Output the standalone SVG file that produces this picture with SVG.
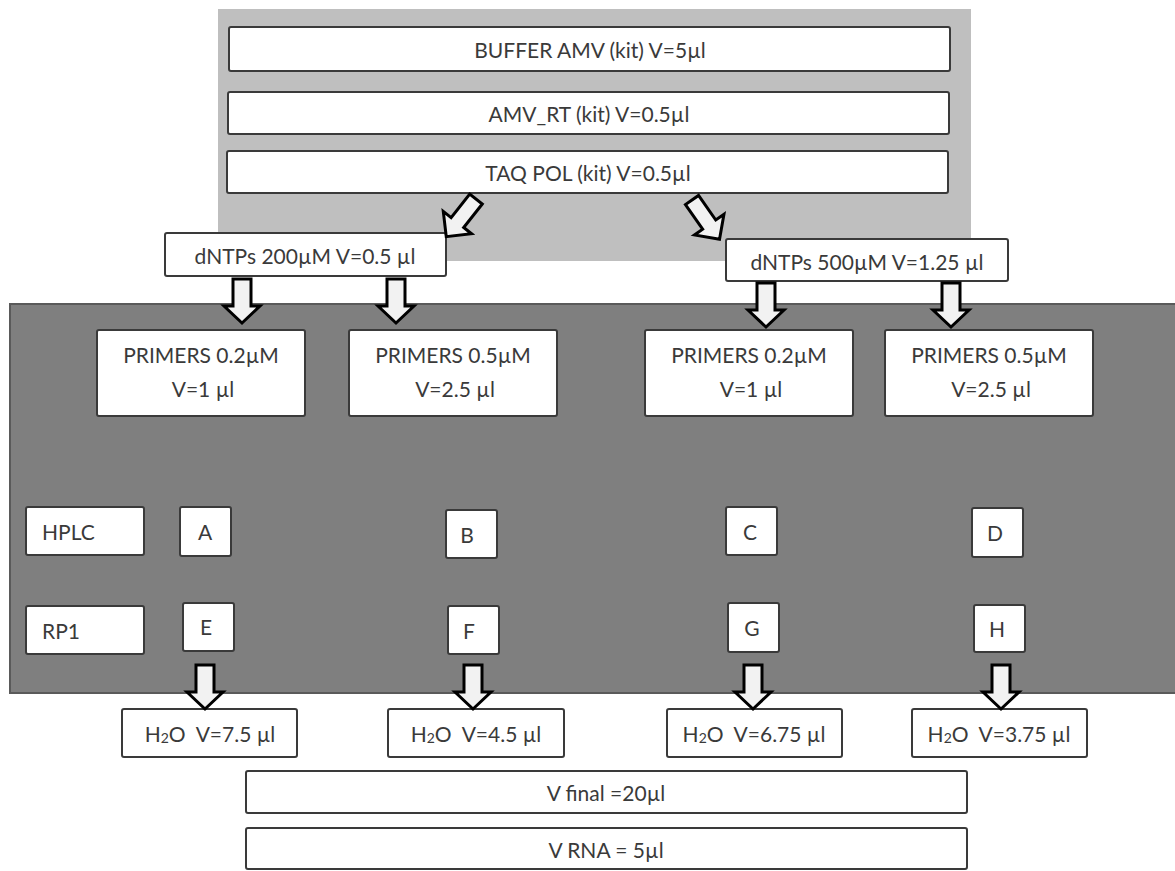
<svg xmlns="http://www.w3.org/2000/svg" width="1175" height="871" viewBox="0 0 1175 871">
<style>
.bx{fill:#ffffff;stroke:#3a3a3a;stroke-width:2}
.t{font-family:Lato,"Liberation Sans",sans-serif;font-size:21px;fill:#3a3a3a;text-anchor:middle;dominant-baseline:central}
.tl{text-anchor:start}
.ar{fill:#f2f2f2;stroke:#000000;stroke-width:3;stroke-linejoin:miter}
</style>
<defs>
<path id="va" d="M-9,-44 L9,-44 L9,-17 L18,-17 L0,0 L-18,-17 L-9,-17 Z"/>
<path id="da" d="M0,-8 L30,-8 L30,-18 L48,0 L30,18 L30,8 L0,8 Z"/>
</defs>
<rect x="0" y="0" width="1175" height="871" fill="#ffffff"/>
<g id="panel-kit"><rect x="218" y="9" width="753" height="252" fill="#bfbfbf"/></g>
<g id="panel-samples"><rect x="10" y="304" width="1170" height="389" fill="#7f7f7f" stroke="#5a5a5a" stroke-width="2"/></g>

<g id="buffer"><rect class="bx" x="229" y="27" width="721" height="44" rx="2" stroke-width="2.5"/><text class="t" x="590" y="49">BUFFER AMV (kit) V=5µl</text></g>
<g id="amvrt"><rect class="bx" x="228" y="92" width="721" height="42" rx="2"/><text class="t" x="589" y="113">AMV_RT (kit) V=0.5µl</text></g>
<g id="taqpol"><rect class="bx" x="227" y="151" width="721" height="42" rx="2"/><text class="t" x="588" y="172">TAQ POL (kit) V=0.5µl</text></g>

<g id="dntp200"><rect class="bx" x="165" y="233" width="281" height="43" rx="2"/><text class="t" x="305" y="255">dNTPs 200µM V=0.5 µl</text></g>
<g id="dntp500"><rect class="bx" x="726" y="239" width="282" height="42" rx="2"/><text class="t" x="867" y="261">dNTPs 500µM V=1.25 µl</text></g>

<g id="primers1"><rect class="bx" x="97" y="330" width="208" height="86" rx="2"/><text class="t" x="201" y="354">PRIMERS 0.2µM</text><text class="t" x="203" y="388">V=1 µl</text></g>
<g id="primers2"><rect class="bx" x="349" y="330" width="208" height="86" rx="2"/><text class="t" x="453" y="354">PRIMERS 0.5µM</text><text class="t" x="455" y="388">V=2.5 µl</text></g>
<g id="primers3"><rect class="bx" x="645" y="330" width="208" height="86" rx="2"/><text class="t" x="749" y="354">PRIMERS 0.2µM</text><text class="t" x="751" y="388">V=1 µl</text></g>
<g id="primers4"><rect class="bx" x="885" y="330" width="208" height="86" rx="2"/><text class="t" x="989" y="354">PRIMERS 0.5µM</text><text class="t" x="991" y="388">V=2.5 µl</text></g>

<g id="hplc"><rect class="bx" x="26" y="507" width="118" height="48" rx="2"/><text class="t tl" x="42" y="531">HPLC</text></g>
<g id="rp1"><rect class="bx" x="26" y="606" width="118" height="48" rx="2"/><text class="t tl" x="42" y="630">RP1</text></g>

<g id="A"><rect class="bx" x="180" y="507" width="51" height="49" rx="2"/><text class="t" x="205" y="531">A</text></g>
<g id="B"><rect class="bx" x="446" y="510" width="51" height="48" rx="2"/><text class="t" x="467" y="534">B</text></g>
<g id="C"><rect class="bx" x="726" y="507" width="51" height="48" rx="2"/><text class="t" x="750" y="531">C</text></g>
<g id="D"><rect class="bx" x="972" y="508" width="51" height="49" rx="2"/><text class="t" x="995" y="532">D</text></g>
<g id="E"><rect class="bx" x="183" y="603" width="51" height="48" rx="2"/><text class="t" x="206" y="626">E</text></g>
<g id="F"><rect class="bx" x="448" y="606" width="51" height="48" rx="2"/><text class="t" x="469" y="630">F</text></g>
<g id="G"><rect class="bx" x="728" y="603" width="51" height="49" rx="2"/><text class="t" x="752" y="627">G</text></g>
<g id="H"><rect class="bx" x="974" y="605" width="51" height="47" rx="2"/><text class="t" x="997" y="628">H</text></g>

<g id="h2o1"><rect class="bx" x="122" y="709" width="175" height="48" rx="2"/><text class="t" x="210" y="733">H<tspan font-size="14" dy="4">2</tspan><tspan dy="-4">O&#160; V=7.5 µl</tspan></text></g>
<g id="h2o2"><rect class="bx" x="388" y="709" width="176" height="48" rx="2"/><text class="t" x="476" y="733">H<tspan font-size="14" dy="4">2</tspan><tspan dy="-4">O&#160; V=4.5 µl</tspan></text></g>
<g id="h2o3"><rect class="bx" x="667" y="709" width="175" height="48" rx="2"/><text class="t" x="754" y="733">H<tspan font-size="14" dy="4">2</tspan><tspan dy="-4">O&#160; V=6.75 µl</tspan></text></g>
<g id="h2o4"><rect class="bx" x="912" y="709" width="175" height="48" rx="2"/><text class="t" x="999" y="733">H<tspan font-size="14" dy="4">2</tspan><tspan dy="-4">O&#160; V=3.75 µl</tspan></text></g>

<g id="vfinal"><rect class="bx" x="246" y="771" width="721" height="42" rx="2"/><text class="t" x="606" y="792">V final =20µl</text></g>
<g id="vrna"><rect class="bx" x="246" y="828" width="721" height="41" rx="2"/><text class="t" x="606" y="849">V RNA = 5µl</text></g>

<g id="connectors">
<use href="#da" class="ar" transform="translate(476,199) rotate(128.3)"/>
<use href="#da" class="ar" transform="translate(692,200) rotate(55)"/>
<use href="#va" class="ar" transform="translate(242,323)"/>
<use href="#va" class="ar" transform="translate(396,323)"/>
<use href="#va" class="ar" transform="translate(766,327)"/>
<use href="#va" class="ar" transform="translate(951,327)"/>
<use href="#va" class="ar" transform="translate(205,709)"/>
<use href="#va" class="ar" transform="translate(473,709)"/>
<use href="#va" class="ar" transform="translate(753,709)"/>
<use href="#va" class="ar" transform="translate(1001,709)"/>
</g>
</svg>
